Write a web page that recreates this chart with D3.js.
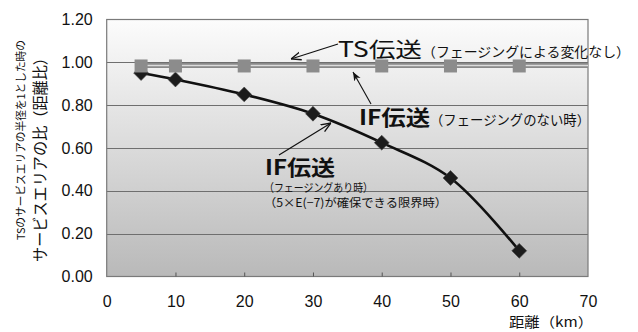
<!DOCTYPE html>
<html><head><meta charset="utf-8">
<script src="https://cdn.jsdelivr.net/npm/d3@7"></script>
<style>
html,body{margin:0;padding:0;background:#fff;}
svg{display:block;}
</style></head>
<body>
<svg id="chart" width="638" height="332"></svg>
<script>
// ---- data ----
const xTicks = [0, 10, 20, 30, 40, 50, 60, 70];
const yTicks = [0, 0.2, 0.4, 0.6, 0.8, 1.0, 1.2];
const yTickLabels = ["0.00", "0.20", "0.40", "0.60", "0.80", "1.00", "1.20"];
const tsDist = [5, 10, 20, 30, 40, 50, 60];
const tsValues = [0.983, 0.983, 0.983, 0.983, 0.983, 0.983, 0.983];
const ifNoFadeDist = [5, 10, 20, 30, 40, 50, 60, 70];
const ifNoFadeValues = [0.985, 0.985, 0.985, 0.985, 0.985, 0.985, 0.985, 0.985];
const ifFadeDist = [5, 10, 20, 30, 40, 50, 60];
const ifFadeValues = [0.95, 0.92, 0.85, 0.76, 0.625, 0.46, 0.12];
const yTitle1 = "TSのサービスエリアの半径を1とした時の";
const yTitle2 = "サービスエリアの比（距離比）";
const xTitle = "距離（km）";

// ---- layout ----
const svg = d3.select("#chart");
const L = 106.7, R = 588, T = 19.5, B = 276.5;
const x = d3.scaleLinear().domain([0, 70]).range([L, R]);
const y = d3.scaleLinear().domain([0, 1.2]).range([B, T]);
const latin = "'Liberation Sans', Arial, sans-serif";
const jp = "'Noto Sans CJK JP', 'Noto Sans CJK SC', sans-serif";

const defs = svg.append("defs");
const grad = defs.append("linearGradient").attr("id", "bg")
  .attr("x1", 0).attr("y1", 0).attr("x2", 0).attr("y2", 1);
grad.append("stop").attr("offset", "0%").attr("stop-color", "#fcfcfc");
grad.append("stop").attr("offset", "100%").attr("stop-color", "#b9b9b9");

defs.append("marker").attr("id", "openArrow")
  .attr("viewBox", "0 0 10 10").attr("refX", 10).attr("refY", 5)
  .attr("markerWidth", 10).attr("markerHeight", 10).attr("markerUnits", "userSpaceOnUse")
  .attr("orient", "auto")
  .append("path").attr("d", "M0,1 L10,5 L0,9").attr("fill", "none")
  .attr("stroke", "#111").attr("stroke-width", 1.3);
defs.append("marker").attr("id", "fillArrow")
  .attr("viewBox", "0 0 10 10").attr("refX", 10).attr("refY", 5)
  .attr("markerWidth", 9).attr("markerHeight", 9).attr("markerUnits", "userSpaceOnUse")
  .attr("orient", "auto")
  .append("path").attr("d", "M0,1 L10,5 L0,9 L3,5 Z").attr("fill", "#111");

// plot background
svg.append("rect").attr("x", L).attr("y", T).attr("width", R - L).attr("height", B - T)
  .attr("fill", "url(#bg)");

// gridlines
svg.append("g").selectAll("line").data(yTicks.slice(1, -1)).join("line")
  .attr("x1", L).attr("x2", R)
  .attr("y1", d => Math.round(y(d)) + 0.5).attr("y2", d => Math.round(y(d)) + 0.5)
  .attr("stroke", "#6f6f6f").attr("stroke-width", 1);

// border
svg.append("rect").attr("x", L).attr("y", T).attr("width", R - L).attr("height", B - T)
  .attr("fill", "none").attr("stroke", "#7a7a7a").attr("stroke-width", 1.2);

// x axis
const xAxis = svg.append("g").attr("transform", `translate(0,${B})`)
  .call(d3.axisBottom(x).tickValues(xTicks).tickSizeInner(-4).tickSizeOuter(0).tickPadding(19.5)
    .tickFormat(d3.format("d")));
xAxis.select(".domain").remove();
xAxis.selectAll(".tick line").attr("stroke", "#555").filter(d => d === 0 || d === 70).remove();
xAxis.selectAll("text").attr("font-family", latin).attr("font-size", 16).attr("fill", "#111");

// y axis
const yAxis = svg.append("g").attr("transform", `translate(${L},0)`)
  .call(d3.axisLeft(y).tickValues(yTicks).tickSize(0).tickPadding(14)
    .tickFormat((d, i) => yTickLabels[i]));
yAxis.select(".domain").remove();
yAxis.selectAll("text").attr("font-family", latin).attr("font-size", 16).attr("fill", "#111");

// IF with fading (black smooth line + diamonds)
const fadeData = ifFadeDist.map((d, i) => [d, ifFadeValues[i]]);
svg.append("path").datum(fadeData)
  .attr("d", d3.line().x(d => x(d[0])).y(d => y(d[1])).curve(d3.curveCatmullRom.alpha(0.5)))
  .attr("fill", "none").attr("stroke", "#111").attr("stroke-width", 2.6);
svg.append("g").selectAll("path").data(fadeData).join("path")
  .attr("transform", d => `translate(${x(d[0])},${y(d[1])}) rotate(45)`)
  .attr("d", d3.symbol(d3.symbolSquare, 110)())
  .attr("fill", "#1c1c1c").attr("stroke", "#444").attr("stroke-width", 0.6);

// IF without fading (double line)
const noFadeData = ifNoFadeDist.map((d, i) => [d, ifNoFadeValues[i]]);
const lineGen = d3.line().x(d => x(d[0])).y(d => y(d[1]));
svg.append("path").datum(noFadeData).attr("d", lineGen)
  .attr("fill", "none").attr("stroke", "#8a8a8a").attr("stroke-width", 5);
svg.append("path").datum(noFadeData).attr("d", lineGen)
  .attr("fill", "none").attr("stroke", "#dcdcdc").attr("stroke-width", 1.4);

// TS squares
svg.append("g").selectAll("rect").data(tsDist.map((d, i) => [d, tsValues[i]])).join("rect")
  .attr("x", d => x(d[0]) - 6.5).attr("y", d => y(d[1]) - 6.5)
  .attr("width", 13).attr("height", 13).attr("fill", "#8c8c8c");

// annotation arrows
svg.append("line").attr("x1", 338).attr("y1", 44).attr("x2", 291).attr("y2", 59)
  .attr("stroke", "#111").attr("stroke-width", 1.2).attr("marker-end", "url(#openArrow)");
svg.append("line").attr("x1", 371).attr("y1", 104).attr("x2", 353).attr("y2", 72)
  .attr("stroke", "#111").attr("stroke-width", 1.1).attr("marker-end", "url(#fillArrow)");
svg.append("line").attr("x1", 279).attr("y1", 155).attr("x2", 331).attr("y2", 123)
  .attr("stroke", "#111").attr("stroke-width", 1.1).attr("marker-end", "url(#openArrow)");

// annotation texts
function txt(s, xx, yy, size, weight, len) {
  const t = svg.append("text").attr("x", xx).attr("y", yy).text(s)
    .attr("font-family", jp).attr("font-size", size).attr("font-weight", weight || "normal")
    .attr("fill", "#111");
  if (len) t.attr("textLength", len).attr("lengthAdjust", "spacingAndGlyphs");
  return t;
}
txt("TS伝送", 338, 57, 21, "normal", 84);
txt("（フェージングによる変化なし）", 422, 57, 13.5, "normal", 208);
txt("IF伝送", 359, 125, 21, "bold", 71);
txt("（フェージングのない時）", 430, 125, 13.5, "normal", 160);
txt("IF伝送", 265, 175, 21, "bold", 70);
txt("（フェージングあり時）", 264, 192, 11.5, "normal", 109);
txt("（5×E(−7)が確保できる限界時）", 264, 207, 11.5, "normal", 183);

// axis titles
svg.append("text").attr("transform", "translate(20,140) rotate(-90)")
  .attr("text-anchor", "middle").attr("dominant-baseline", "central")
  .attr("font-family", jp).attr("font-size", 11).attr("fill", "#111")
  .attr("textLength", 200).attr("lengthAdjust", "spacingAndGlyphs").text(yTitle1);
svg.append("text").attr("transform", "translate(39,156) rotate(-90)")
  .attr("text-anchor", "middle").attr("dominant-baseline", "central")
  .attr("font-family", jp).attr("font-size", 15.5).attr("fill", "#111")
  .attr("textLength", 212).attr("lengthAdjust", "spacingAndGlyphs").text(yTitle2);
svg.append("text").attr("x", 593).attr("y", 327).attr("text-anchor", "end")
  .attr("font-family", jp).attr("font-size", 13.5).attr("fill", "#111")
  .attr("textLength", 84).attr("lengthAdjust", "spacingAndGlyphs").text(xTitle);
</script>
</body></html>
